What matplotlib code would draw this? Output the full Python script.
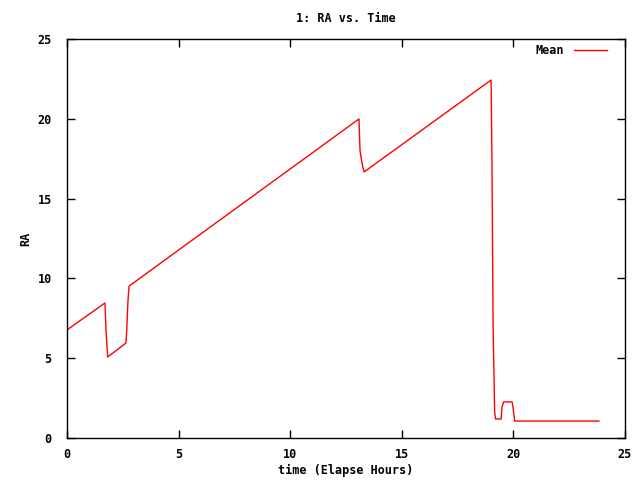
import matplotlib
matplotlib.use("Agg")
import matplotlib.pyplot as plt

# time in elapsed hours and mean RA
time_hours = [0.00, 1.70, 1.75, 1.82, 2.64, 2.68, 2.73, 2.78,
              13.08, 13.13, 13.22, 13.31, 19.00, 19.04, 19.09,
              19.16, 19.20, 19.45, 19.49, 19.56, 19.94, 19.98,
              20.06, 23.83]
ra_mean = [6.77, 8.46, 6.70, 5.07, 5.95, 6.83, 8.58, 9.52,
           19.99, 17.98, 17.20, 16.67, 22.43, 17.30, 7.00,
           1.63, 1.19, 1.19, 1.94, 2.26, 2.26, 1.94,
           1.06, 1.06]

font = {"family": "DejaVu Sans Mono", "weight": "bold", "size": 8.5}
plt.rcParams["font.family"] = "DejaVu Sans Mono"
plt.rcParams["font.weight"] = "bold"
plt.rcParams["font.size"] = 8.5

fig = plt.figure(figsize=(6.4, 4.8), dpi=100)
ax = fig.add_axes([67 / 640, 42 / 480, 558 / 640, 399 / 480])

ax.plot(time_hours, ra_mean, color="red", linewidth=1, label="Mean")

ax.set_xlim(0, 25)
ax.set_ylim(0, 25)
ax.set_xticks([0, 5, 10, 15, 20, 25])
ax.set_yticks([0, 5, 10, 15, 20, 25])
ax.tick_params(direction="in", top=True, right=True, length=6, width=1)
ax.tick_params(axis="x", pad=7)
ax.tick_params(axis="y", pad=11)
for s in ax.spines.values():
    s.set_linewidth(1)

ax.set_title("1: RA vs. Time", fontdict=font, pad=12)
ax.set_xlabel("time (Elapse Hours)", fontdict=font, labelpad=2)
ax.set_ylabel("RA", fontdict=font, labelpad=4)

ax.legend(loc="upper right", frameon=False, markerfirst=False,
          handlelength=2.8, borderaxespad=0.3, prop=font,
          bbox_to_anchor=(1 - 10 / 558, 1 + 3 / 399))

fig.savefig("out.png", dpi=100)
